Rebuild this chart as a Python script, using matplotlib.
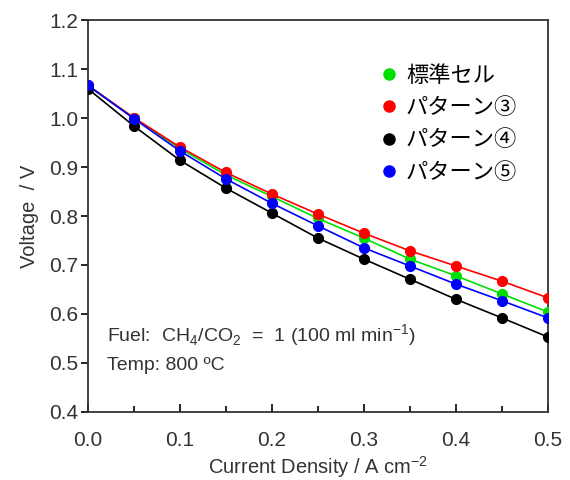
import numpy as np
import matplotlib.pyplot as plt
from matplotlib.lines import Line2D

plt.rcParams['font.family'] = ['Liberation Sans', 'Noto Sans CJK JP', 'DejaVu Sans']
plt.rcParams['mathtext.fontset'] = 'custom'
plt.rcParams['mathtext.rm'] = 'Liberation Sans'

# Current density (A cm-2)
current = [0.0, 0.05, 0.10, 0.15, 0.20, 0.25, 0.30, 0.35, 0.40, 0.45, 0.50]

# Voltage (V) for each cell
v_standard = [1.066, 1.000, 0.938, 0.884, 0.840, 0.795, 0.755, 0.712, 0.678, 0.641, 0.604]
v_pattern3 = [1.067, 1.001, 0.941, 0.889, 0.845, 0.804, 0.765, 0.729, 0.698, 0.667, 0.633]
v_pattern4 = [1.060, 0.984, 0.914, 0.857, 0.806, 0.755, 0.712, 0.671, 0.630, 0.592, 0.553]
v_pattern5 = [1.067, 0.999, 0.933, 0.876, 0.826, 0.780, 0.735, 0.698, 0.661, 0.627, 0.592]

labels = ["標準セル", "パターン③", "パターン④", "パターン⑤"]
colors = ["#00e000", "#ff0000", "#000000", "#0000ff"]
series = [v_standard, v_pattern3, v_pattern4, v_pattern5]

fig = plt.figure(figsize=(5.7, 4.8), dpi=100)
ax = fig.add_axes([0.154, 0.142, 0.807, 0.816])

# draw order: black first, then blue, green, red on top
for i in [2, 3, 0, 1]:
    ax.plot(current, series[i], color=colors[i], lw=1.2, marker='o', ms=7, zorder=3 + i)

ax.set_xlim(0, 0.5)
ax.set_ylim(0.4, 1.2)
ax.set_xticks(np.arange(0, 0.51, 0.1))
ax.set_xticks(np.arange(0.05, 0.5, 0.1), minor=True)
ax.set_yticks(np.arange(0.4, 1.21, 0.1))
ax.xaxis.set_major_formatter(plt.FormatStrFormatter('%.1f'))
ax.yaxis.set_major_formatter(plt.FormatStrFormatter('%.1f'))
ax.tick_params(axis='x', which='major', direction='in', length=6, width=1.2,
               labelsize=15, pad=14, labelcolor='#333333')
ax.tick_params(axis='x', which='minor', direction='in', length=4, width=1.2)
ax.tick_params(axis='y', direction='out', length=5, width=1.2, labelsize=15, pad=2,
               labelcolor='#333333')
for s in ax.spines.values():
    s.set_linewidth(1.3)
    s.set_color('#333333')

ax.set_xlabel("Current Density / A cm$^{-2}$", fontsize=14.5, color='#333333', labelpad=3)
ax.set_ylabel("Voltage  / V", fontsize=14.5, color='#333333', labelpad=7)

ax.text(0.042, 0.195, "Fuel:  CH$_4$/CO$_2$  =  1 (100 ml min$^{-1}$)", transform=ax.transAxes,
        fontsize=14, color='#333333', va='center')
ax.text(0.042, 0.118, "Temp: 800 ºC", transform=ax.transAxes,
        fontsize=14, color='#333333', va='center')

handles = [Line2D([], [], ls='none', marker='o', ms=8, color=c) for c in colors]
ax.legend(handles, labels, loc='upper left', bbox_to_anchor=(0.595, 0.94), frameon=False,
          prop={'family': ['Noto Sans CJK JP', 'DejaVu Sans'], 'size': 16},
          handlelength=0.7, handletextpad=0.4, labelspacing=0.42)

fig.savefig("out.png", dpi=100)
